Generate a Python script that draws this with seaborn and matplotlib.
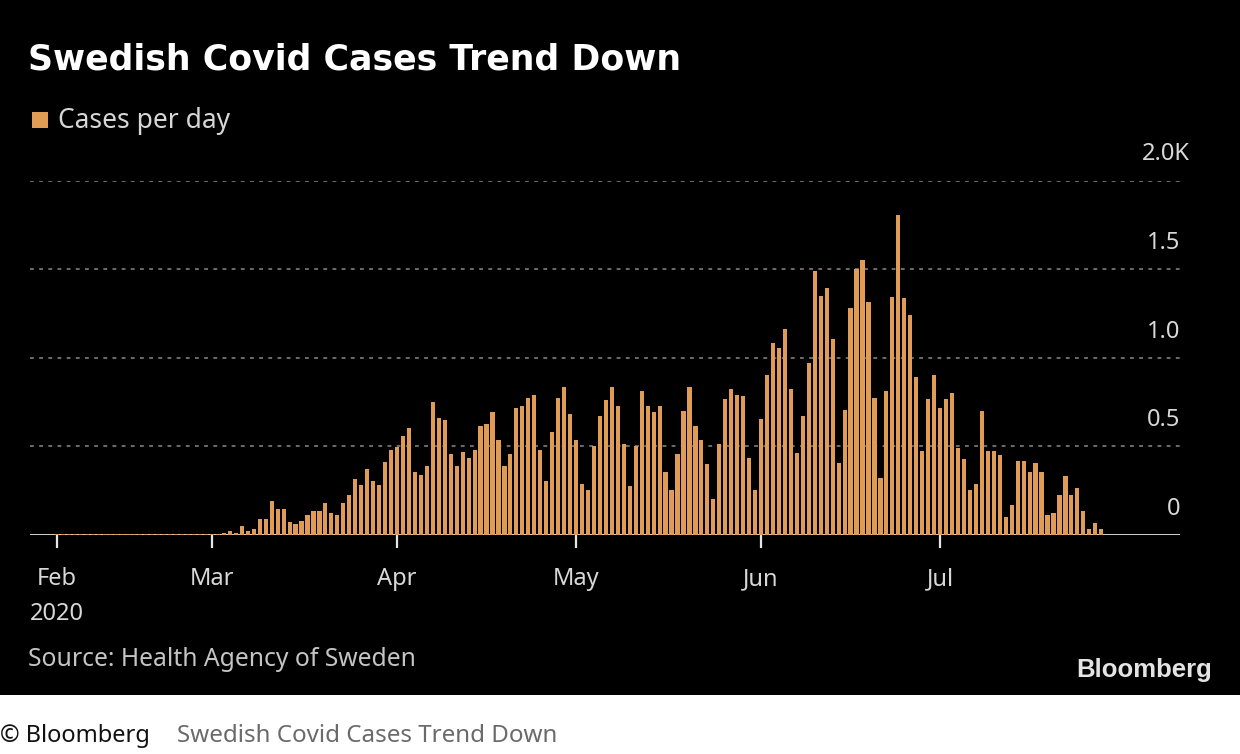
import numpy as np
import pandas as pd
import matplotlib
matplotlib.use("Agg")
import matplotlib.pyplot as plt
import matplotlib.transforms as mtransforms
from matplotlib.patches import Rectangle
import seaborn as sns

# ---- data (cases per day) ----
start_date = "2020-02-04"
end_date = "2020-07-28"
feb = [4, 4, 4, 4, 4, 4, 4, 4, 4, 4, 4, 4, 4, 4, 4, 4, 4, 4, 4, 4, 4, 4, 4, 5, 4, 4]
mar = [5, 5, 10, 25, 13, 48, 25, 36, 92, 92, 194, 148, 148, 71, 61, 80, 113, 136,
       136, 182, 125, 113, 182, 226, 316, 280, 370, 303, 282, 412, 481]
apr = [496, 556, 604, 358, 337, 391, 752, 660, 650, 458, 390, 469, 437, 481, 615,
       627, 694, 537, 390, 458, 715, 725, 771, 792, 481, 302, 581, 771, 836, 681]
may = [537, 290, 256, 500, 669, 760, 836, 725, 512, 279, 500, 815, 725, 692, 725,
       358, 256, 458, 702, 836, 613, 537, 402, 202, 512, 769, 825, 792, 786, 434, 256]
jun = [655, 905, 1085, 1053, 1164, 823, 464, 671, 968, 1491, 1348, 1391, 1107, 408,
       705, 1282, 1498, 1553, 1314, 771, 323, 814, 1344, 1805, 1337, 1239, 889, 476,
       770, 901]
jul = [715, 770, 802, 491, 430, 255, 287, 702, 474, 474, 453, 102, 168, 417, 417,
       353, 406, 353, 113, 123, 223, 332, 223, 266, 134, 36, 68, 36]

tick_dates = ["2020-02-04", "2020-03-01", "2020-04-01", "2020-05-01", "2020-06-01", "2020-07-01"]
tick_labels = ["Feb\n2020", "Mar", "Apr", "May", "Jun", "Jul"]
y_ticks = [0, 500, 1000, 1500, 2000]
y_labels = ["0", "0.5", "1.0", "1.5", "2.0K"]

title = "Swedish Covid Cases Trend Down"
legend_label = "Cases per day"
source = "Source: Health Agency of Sweden"

# ---- build frame ----
dates = pd.date_range(start_date, end_date, freq="D")
values = feb + mar + apr + may + jun + jul
ref = pd.Timestamp("2020-03-01")
df = pd.DataFrame({"day": (dates - ref).days.astype(float), "cases": values})

sns.set_theme(style="dark")
plt.rcParams["font.family"] = ["Noto Sans", "DejaVu Sans"]

W, H = 1240, 754
fig = plt.figure(figsize=(W / 100, H / 100), dpi=100, facecolor="black")

# white strip at bottom
fig.patches.append(Rectangle((0, 0), 1, (H - 695) / H, transform=fig.transFigure,
                             facecolor="white", edgecolor="none", zorder=0))

ax = fig.add_axes([30 / W, (H - 535) / H, 1150 / W, (535 - 180.5) / H])
ax.set_facecolor("black")

bar_color = "#E09C55"
sns.barplot(data=df, x="day", y="cases", native_scale=True, width=0.7,
            color=bar_color, saturation=1, errorbar=None, ax=ax,
            edgecolor="none", zorder=3)

ax.set_xlim(-30.5, 162.2)
ax.set_ylim(0, 2000)
for s in ax.spines.values():
    s.set_visible(False)
ax.set_xlabel("")
ax.set_ylabel("")
ax.grid(False)

# gridlines
for v in y_ticks[1:]:
    ax.axhline(v, color="#8a8a8a", lw=1.1, ls=(0, (2.5, 3.5)), zorder=1)
ax.axhline(0, color="#e6e6e6", lw=2, zorder=2)

# y labels above gridlines, right aligned
ax.set_yticks([])
off = mtransforms.ScaledTranslation(0, 26 / 100, fig.dpi_scale_trans)
trans = mtransforms.blended_transform_factory(ax.transAxes, ax.transData) + off
for v, lab in zip(y_ticks, y_labels):
    if lab.endswith("K"):
        ax.text(1.0 - 38 / 1150, v, lab, transform=trans, ha="left", va="center",
                color="#d8d8d8", fontsize=17)
    else:
        ax.text(1.0, v, lab, transform=trans, ha="right", va="center",
                color="#d8d8d8", fontsize=17)

# x ticks
tick_pos = [(pd.Timestamp(d) - ref).days for d in tick_dates]
ax.set_xticks(tick_pos)
ax.set_xticklabels(tick_labels, color="#d8d8d8", fontsize=17, linespacing=1.6)
ax.tick_params(axis="x", length=9, width=1.6, color="#e6e6e6", pad=14, bottom=True,
               direction="out")
ax.tick_params(axis="y", length=0)

# title
fig.text(28 / W, 1 - 59 / H, title, color="white", fontsize=25, fontweight="bold",
         family=["DejaVu Sans"], va="center", ha="left")

# legend
fig.patches.append(Rectangle((32 / W, 1 - 128 / H), 16 / W, 16 / H,
                             transform=fig.transFigure, facecolor=bar_color,
                             edgecolor="none"))
fig.text(58 / W, 1 - 121 / H, legend_label, color="#d6d6d6", fontsize=19,
         va="center", ha="left")

# source + logo
fig.text(28 / W, 1 - 660 / H, source, color="#c4c4c4", fontsize=17.8,
         va="center", ha="left")
fig.text(1212 / W, 1 - 670 / H, "Bloomberg", color="#e4e4e4", fontsize=18.5,
         fontweight="bold", va="center", ha="right", family=["Liberation Sans"])

# bottom caption
fig.text(0 / W, 1 - 736 / H, "© Bloomberg", color="#111111", fontsize=17,
         va="center", ha="left")
fig.text(177 / W, 1 - 736 / H, title, color="#6a6a6a", fontsize=17.4,
         va="center", ha="left")

fig.savefig("out.png", dpi=100, facecolor="black")
